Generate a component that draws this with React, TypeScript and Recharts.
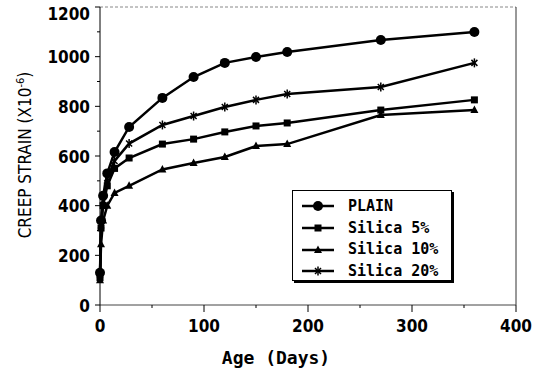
import { LineChart, Line, XAxis, YAxis, ReferenceLine } from 'recharts'

const days = [0, 1, 3, 7, 14, 28, 60, 90, 120, 150, 180, 270, 360]
const plain = [130, 340, 440, 530, 616, 717, 834, 918, 975, 999, 1019, 1067, 1099]
const silica5 = [110, 310, 400, 480, 550, 592, 648, 668, 697, 721, 733, 785, 826]
const silica10 = [100, 245, 340, 400, 451, 480, 546, 572, 596, 640, 648, 765, 785]
const silica20 = [120, 320, 420, 510, 580, 650, 725, 761, 797, 826, 850, 878, 975]

const seriesNames = ['PLAIN', 'Silica 5%', 'Silica 10%', 'Silica 20%']
const xTicks = [0, 50, 100, 150, 200, 250, 300, 350, 400]
const yTicks = [0, 100, 200, 300, 400, 500, 600, 700, 800, 900, 1000, 1100, 1200]

const data = days.map((day, i) => ({
  day,
  plain: plain[i],
  s5: silica5[i],
  s10: silica10[i],
  s20: silica20[i],
}))

const narrow = "'Liberation Sans Narrow', 'DejaVu Sans Condensed', 'Liberation Sans', Arial, sans-serif"
const mono = "'DejaVu Sans Mono', 'Liberation Mono', monospace"

type Shape = 'circle' | 'square' | 'triangle' | 'star'
const shapes: Shape[] = ['circle', 'square', 'triangle', 'star']
const keys = ['plain', 's5', 's10', 's20']

function Marker({ cx, cy, shape }: { cx: number; cy: number; shape: Shape }) {
  if (cx == null || cy == null) return null
  if (shape === 'circle') return <circle cx={cx} cy={cy} r={5} fill="#000" />
  if (shape === 'square') return <rect x={cx - 3.5} y={cy - 3.5} width={7} height={7} fill="#000" />
  if (shape === 'triangle')
    return <path d={`M${cx},${cy - 4.5} L${cx + 4},${cy + 3} L${cx - 4},${cy + 3} Z`} fill="#000" />
  return (
    <g stroke="#000" strokeWidth={1.5}>
      <line x1={cx} y1={cy - 4.5} x2={cx} y2={cy + 4.5} />
      <line x1={cx - 3} y1={cy - 3} x2={cx + 3} y2={cy + 3} />
      <line x1={cx - 3} y1={cy + 3} x2={cx + 3} y2={cy - 3} />
    </g>
  )
}

function XTick({ x, y, payload }: any) {
  const major = payload.value % 100 === 0
  return (
    <g>
      <line x1={x} x2={x} y1={y} y2={y + (major ? 7 : 3)} stroke="#000" />
      {major && (
        <text x={x} y={y + 27} textAnchor="middle" fontFamily={narrow} fontWeight="bold" fontSize={17} fill="#000">
          {payload.value}
        </text>
      )}
    </g>
  )
}

function YTick({ x, y, payload }: any) {
  const major = payload.value % 200 === 0
  return (
    <g>
      <line x1={x} x2={x - (major ? 5 : 3)} y1={y} y2={y} stroke="#000" />
      {major && (
        <text
          x={x - 10}
          y={Math.max(y + 6.5, 20)}
          textAnchor="end"
          fontFamily={narrow}
          fontWeight="bold"
          fontSize={17}
          fill="#000"
        >
          {payload.value}
        </text>
      )}
    </g>
  )
}

function YLabel() {
  return (
    <text
      transform="translate(31,155) rotate(-90)"
      textAnchor="middle"
      fontFamily={narrow}
      fontSize={17}
      fill="#000"
    >
      CREEP STRAIN (X10<tspan dy={-7} fontSize={11}>-6</tspan>
      <tspan dy={7}>)</tspan>
    </text>
  )
}

function XLabel() {
  return (
    <text x={276} y={364} textAnchor="middle" fontFamily={mono} fontWeight="bold" fontSize={18} fill="#000">
      Age (Days)
    </text>
  )
}

function LegendBox() {
  return (
    <div
      style={{
        position: 'absolute',
        left: 292,
        top: 190,
        width: 160,
        height: 91,
        border: '1px solid #000',
        boxShadow: '2px 2px 0 #000',
        background: '#fff',
        boxSizing: 'border-box',
        padding: '4.5px 0 0 8px',
      }}
    >
      {seriesNames.map((name, i) => (
        <div key={name} style={{ display: 'flex', alignItems: 'center', height: 21.7 }}>
          <svg width={34} height={12} style={{ display: 'block' }}>
            <line x1={1} x2={33} y1={6} y2={6} stroke="#000" strokeWidth={2.5} />
            <Marker cx={17} cy={6} shape={shapes[i]} />
          </svg>
          <span
            style={{
              marginLeft: 13,
              fontFamily: mono,
              fontWeight: 'bold',
              fontSize: 15,
              lineHeight: '15px',
              color: '#000',
            }}
          >
            {name}
          </span>
        </div>
      ))}
    </div>
  )
}

export default function App() {
  return (
    <div style={{ position: 'absolute', left: 0, top: 0, width: 540, height: 374, background: '#fff' }}>
      <LineChart width={540} height={374} data={data} margin={{ top: 7, right: 24, bottom: 0, left: 0 }}>
        <XAxis
          dataKey="day"
          type="number"
          domain={[0, 400]}
          ticks={xTicks}
          interval={0}
          height={69}
          tickSize={0}
          tickMargin={0}
          tickLine={false}
          tick={<XTick />}
          stroke="#444"
          label={<XLabel />}
        />
        <YAxis
          type="number"
          domain={[0, 1200]}
          ticks={yTicks}
          interval={0}
          width={100}
          tickSize={0}
          tickMargin={0}
          tickLine={false}
          tick={<YTick />}
          stroke="#000"
          label={<YLabel />}
        />
        <ReferenceLine y={1200} stroke="#888" strokeDasharray="3 2" />
        <ReferenceLine x={400} stroke="#333" />
        {keys.map((k, i) => (
          <Line
            key={k}
            dataKey={k}
            name={seriesNames[i]}
            stroke="#000"
            strokeWidth={2.5}
            isAnimationActive={false}
            dot={(p: any) => <Marker key={`${k}-${p.index}`} cx={p.cx} cy={p.cy} shape={shapes[i]} />}
            activeDot={false}
          />
        ))}
      </LineChart>
      <LegendBox />
    </div>
  )
}
